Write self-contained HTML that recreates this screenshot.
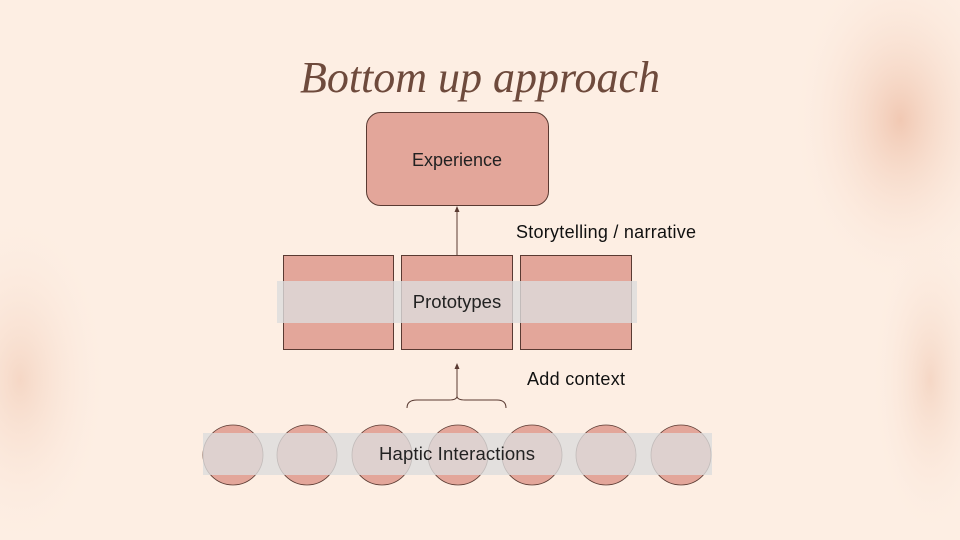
<!DOCTYPE html>
<html><head><meta charset="utf-8"><style>
html,body{margin:0;padding:0;width:960px;height:540px;overflow:hidden;background:#fdeee3}
</style></head><body>
<svg width="960" height="540" viewBox="0 0 960 540" xmlns="http://www.w3.org/2000/svg">
<defs>
<radialGradient id="g1" cx="0.5" cy="0.5" r="0.5"><stop offset="0" stop-color="#eebfa7" stop-opacity="0.8"/><stop offset="1" stop-color="#fdeee3" stop-opacity="0"/></radialGradient>
<radialGradient id="g2" cx="0.5" cy="0.5" r="0.5"><stop offset="0" stop-color="#f0c8b2" stop-opacity="0.6"/><stop offset="1" stop-color="#fdeee3" stop-opacity="0"/></radialGradient>
</defs>
<rect width="960" height="540" fill="#fdeee3"/>
<ellipse cx="900" cy="120" rx="110" ry="170" fill="url(#g1)"/>
<ellipse cx="930" cy="380" rx="60" ry="160" fill="url(#g2)"/>
<ellipse cx="20" cy="380" rx="90" ry="170" fill="url(#g2)"/>
<text x="480" y="92" text-anchor="middle" font-family="Liberation Serif, serif" font-style="italic" font-size="44" fill="#6e4a3c">Bottom up approach</text>
<rect x="366.5" y="112.5" width="182" height="93" rx="14" fill="#e3a69a" stroke="#5a3a32"/>
<text x="457" y="166" text-anchor="middle" font-family="Liberation Sans, sans-serif" font-size="18" fill="#222">Experience</text>
<line x1="457" y1="255" x2="457" y2="211" stroke="#5a3a32"/>
<polygon points="457,206 454.5,212 459.5,212" fill="#5a3a32"/>
<text x="516" y="238" font-family="Liberation Sans, sans-serif" font-size="18" textLength="180" fill="#111">Storytelling / narrative</text>
<g fill="#e3a69a" stroke="#5a3a32">
<rect x="283.5" y="255.5" width="110" height="94"/>
<rect x="401.5" y="255.5" width="111" height="94"/>
<rect x="520.5" y="255.5" width="111" height="94"/>
</g>
<rect x="277" y="281" width="360" height="42" fill="#dcdcdc" fill-opacity="0.8"/>
<text x="457" y="308" text-anchor="middle" font-family="Liberation Sans, sans-serif" font-size="18.5" fill="#222">Prototypes</text>
<text x="527" y="385" font-family="Liberation Sans, sans-serif" font-size="18" textLength="98" fill="#111">Add context</text>
<line x1="457" y1="397" x2="457" y2="368" stroke="#5a3a32"/>
<polygon points="457,363 454.5,369 459.5,369" fill="#5a3a32"/>
<path d="M407,408 Q407,400 417,400 L449,400 Q457,400 457,396 Q457,400 465,400 L497,400 Q506,400 506,408" fill="none" stroke="#5a3a32"/>
<g fill="#e3a69a" stroke="#5a3a32" stroke-width="0.8">
<circle cx="233" cy="455" r="30"/><circle cx="307" cy="455" r="30"/><circle cx="382" cy="455" r="30"/><circle cx="458" cy="455" r="30"/><circle cx="532" cy="455" r="30"/><circle cx="606" cy="455" r="30"/><circle cx="681" cy="455" r="30"/>
</g>
<rect x="203" y="433" width="509" height="42" fill="#dcdcdc" fill-opacity="0.8"/>
<text x="457" y="460" text-anchor="middle" font-family="Liberation Sans, sans-serif" font-size="18.5" textLength="156" fill="#222">Haptic Interactions</text>
</svg>
</body></html>
